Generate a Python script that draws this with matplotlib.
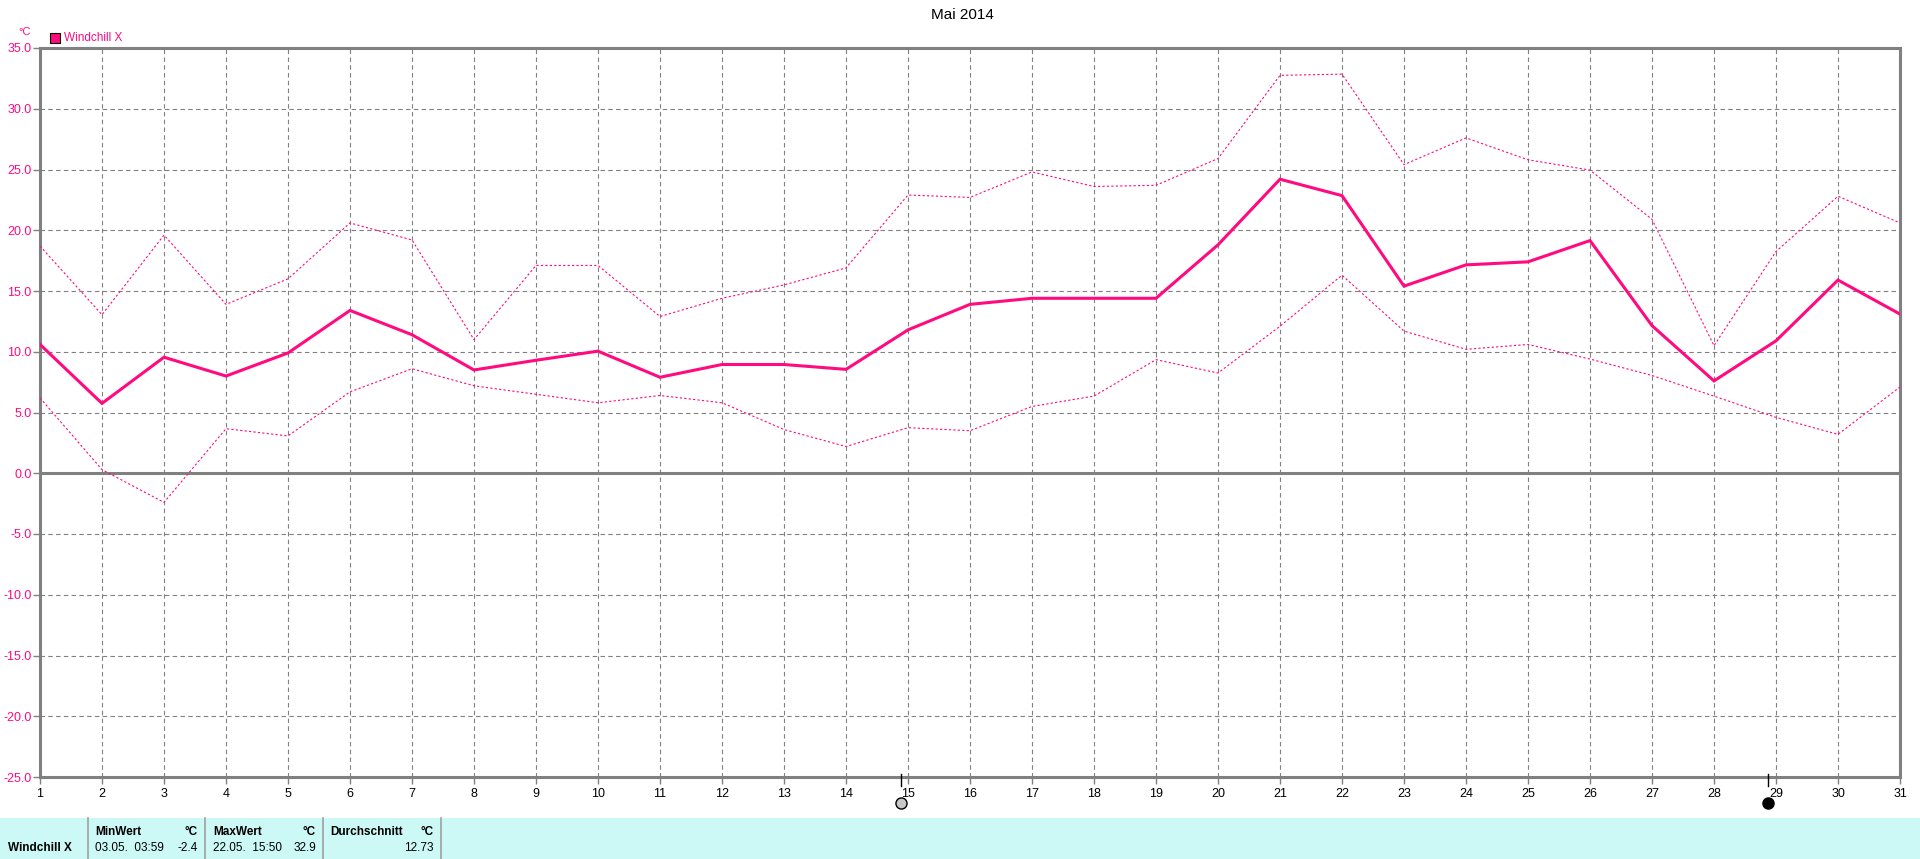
import matplotlib
matplotlib.use("Agg")
import matplotlib.pyplot as plt
from matplotlib.patches import Rectangle
from matplotlib.lines import Line2D

plt.rcParams['font.family'] = ['Liberation Sans', 'DejaVu Sans']

days = list(range(1, 32))
mean_vals = [10.6, 5.75, 9.55, 8.0, 9.9, 13.4, 11.4, 8.5, 9.3, 10.05, 7.9,
             8.95, 8.95, 8.55, 11.8, 13.9, 14.4, 14.4, 14.4, 18.8, 24.2,
             22.85, 15.4, 17.15, 17.4, 19.15, 12.15, 7.6, 10.9, 15.9, 13.1]
max_vals = [18.7, 13.05, 19.6, 13.9, 16.0, 20.6, 19.2, 11.0, 17.1, 17.1, 12.9,
            14.4, 15.5, 16.9, 22.9, 22.7, 24.8, 23.6, 23.7, 25.9, 32.75,
            32.85, 25.4, 27.6, 25.8, 24.95, 20.9, 10.5, 18.25, 22.8, 20.6]
min_vals = [6.2, 0.3, -2.4, 3.67, 3.07, 6.7, 8.6, 7.2, 6.5, 5.8, 6.4,
            5.8, 3.6, 2.2, 3.75, 3.5, 5.5, 6.35, 9.35, 8.25, 12.1,
            16.3, 11.7, 10.2, 10.6, 9.4, 8.05, 6.35, 4.6, 3.2, 7.1]
y_ticks = [35.0, 30.0, 25.0, 20.0, 15.0, 10.0, 5.0, 0.0, -5.0, -10.0, -15.0, -20.0, -25.0]
full_moon_pos = 14.88
new_moon_pos = 28.87
title = "Mai 2014"
series_name = "Windchill X"
stats_rows = [("MinWert", "03.05.  03:59", "-2.4"),
              ("MaxWert", "22.05.  15:50", "32.9"),
              ("Durchschnitt", "", "12.73")]

W, H = 1920, 859
PINK = '#FF0A7F'
GRAY = '#808080'

fig = plt.figure(figsize=(W / 100, H / 100), dpi=100)
fig.patch.set_facecolor('white')

def fx(px):
    return px / W

def fy(py):
    return 1 - py / H

left, right, top, bottom = 40, 1900, 48, 777
ax = fig.add_axes([fx(left), fy(bottom), fx(right - left), (bottom - top) / H])
ax.set_xlim(1, 31)
ax.set_ylim(-25, 35)

# grid
for d in days[1:-1]:
    ax.axvline(d, color=GRAY, lw=0.8, ls=(0, (4, 3)), zorder=1)
for v in y_ticks:
    if v not in (35.0, -25.0, 0.0):
        ax.axhline(v, color=GRAY, lw=0.8, ls=(0, (4, 3)), zorder=1)
ax.axhline(0, color=GRAY, lw=2.2, zorder=2)

ax.plot(days, max_vals, color=PINK, lw=0.8, ls=(0, (2, 2)), zorder=3)
ax.plot(days, min_vals, color=PINK, lw=0.8, ls=(0, (2, 2)), zorder=3)
ax.plot(days, mean_vals, color=PINK, lw=2.2, zorder=4, solid_joinstyle='miter')

for s in ax.spines.values():
    s.set_color(GRAY)
    s.set_linewidth(2.2)

ax.set_yticks(y_ticks)
ax.set_yticklabels([f"{v:.1f}" for v in y_ticks], color=PINK, fontsize=9)
ax.set_xticks(days)
ax.set_xticklabels([str(d) for d in days], fontsize=9, color='black')
ax.tick_params(axis='y', length=5, width=1, color=GRAY, pad=1)
ax.tick_params(axis='x', length=5, width=1, color=GRAY, pad=3)

# moon markers
xt = ax.get_xaxis_transform()
for pos, fc in ((full_moon_pos, '#C8C8C8'), (new_moon_pos, 'black')):
    ax.add_line(Line2D([pos, pos], [0.004, -0.012], transform=xt, color='black',
                       lw=1, clip_on=False, zorder=6))
    ax.plot([pos], [-0.0357], transform=xt, marker='o', ms=8, mfc=fc, mec='black',
            mew=1, clip_on=False, zorder=6)

# title
fig.text(fx(962), fy(15), title, ha='center', va='center', fontsize=11, color='black')
# unit and legend
fig.text(fx(25), fy(32), "°C", ha='center', va='center', fontsize=8, color=PINK)
fig.add_artist(Rectangle((fx(50), fy(43)), fx(10), 10 / H, transform=fig.transFigure,
                         facecolor=PINK, edgecolor='black', lw=0.8))
fig.text(fx(64), fy(38), series_name, ha='left', va='center', fontsize=8.5, color=PINK)

# stats table
fig.add_artist(Rectangle((0, 0), 1, (H - 818) / H, transform=fig.transFigure,
                         facecolor='#CCF8F5', edgecolor='none'))
for sx in (88, 205, 323, 441):
    fig.add_artist(Line2D([fx(sx), fx(sx)], [0, fy(818)], transform=fig.transFigure,
                          color='#A0A0A0', lw=1.2))
fig.text(fx(8), fy(848), series_name, ha='left', va='center', fontsize=8.5,
         fontweight='bold', color='black')
col_x = [(95, 198), (213, 316), (330, 434)]
for (lx, rx), (hdr, when, val) in zip(col_x, stats_rows):
    fig.text(fx(lx), fy(832), hdr, ha='left', va='center', fontsize=8.5,
             fontweight='bold', color='black')
    fig.text(fx(rx), fy(832), "°C", ha='right', va='center', fontsize=8.5,
             fontweight='bold', color='black')
    if when:
        fig.text(fx(lx), fy(848), when, ha='left', va='center', fontsize=8.5, color='black')
    fig.text(fx(rx), fy(848), val, ha='right', va='center', fontsize=8.5, color='black')

fig.savefig("out.png", dpi=100)
